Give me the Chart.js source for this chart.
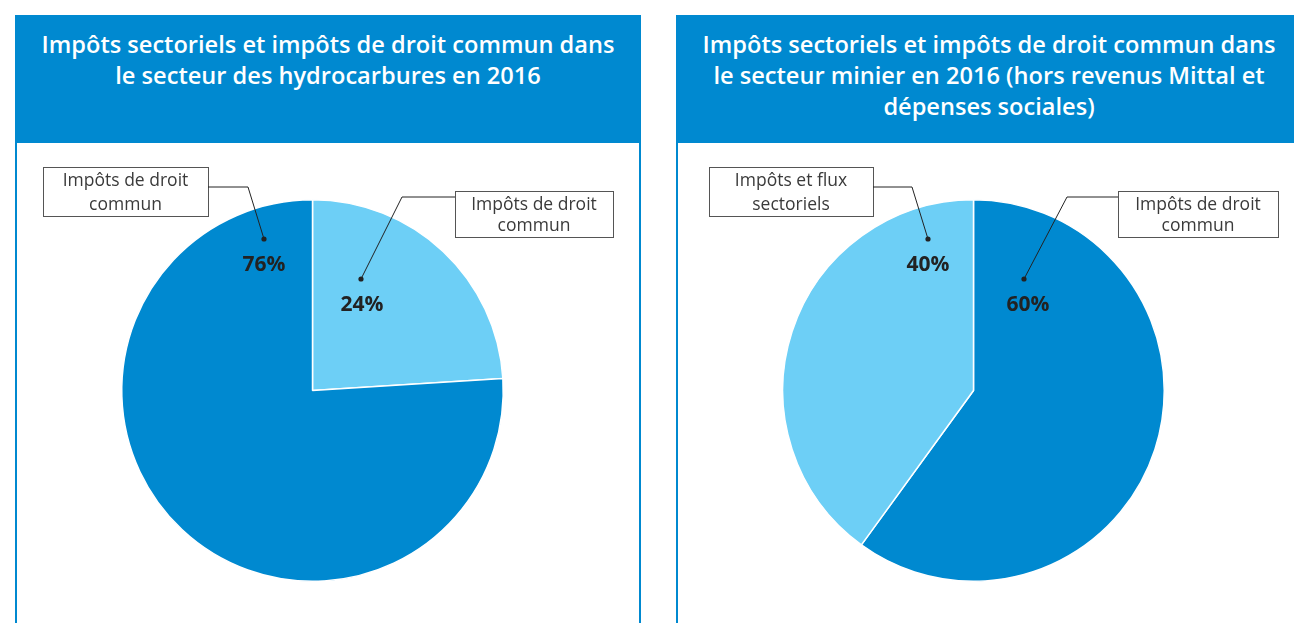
<!DOCTYPE html>
<html>
<head>
<meta charset="utf-8">
<script src="https://cdn.jsdelivr.net/npm/chart.js@4"></script>
<style>
  html, body { margin: 0; padding: 0; background: #fff; }
  body { width: 1294px; height: 623px; position: relative; overflow: hidden; font-family: "Open Sans", sans-serif; }
  .panel { position: absolute; top: 15px; width: 622px; height: 700px; border: 2px solid #0089d0; background: #fff; }
  .panel .head { background: #0089d0; height: 126px; color: #fff; text-align: center; font-weight: 600; font-size: 23.6px; line-height: 31px; padding-top: 12px; box-sizing: border-box; }
  canvas { position: absolute; left: 0; top: 0; }
</style>
</head>
<body>

<div class="panel" style="left:15px;"><div class="head" id="title1"></div></div>
<div class="panel" style="left:676px;"><div class="head" id="title2"></div></div>

<div style="position:absolute;left:0;top:0;width:1294px;height:623px;"><canvas id="pie1"></canvas></div>
<div style="position:absolute;left:0;top:0;width:1294px;height:623px;"><canvas id="pie2"></canvas></div>

<script>
// ===============================
// DATA
// ===============================
const titleHydro = ["Impôts sectoriels et impôts de droit commun dans", "le secteur des hydrocarbures en 2016"];
const titleMines = ["Impôts sectoriels et impôts de droit commun dans", "le secteur minier en 2016 (hors revenus Mittal et", "dépenses sociales)"];

// slices go clockwise from 12 o'clock
const catHydro = ["Impôts de droit commun", "Impôts de droit commun"];
const valHydro = [24, 76];
const catMines = ["Impôts de droit commun", "Impôts et flux sectoriels"];
const valMines = [60, 40];

const DARK = "#0089d0";
const LIGHT = "#6dcff6";
const colHydro = [LIGHT, DARK];
const colMines = [DARK, LIGHT];

document.getElementById("title1").innerHTML = titleHydro.join("<br>");
document.getElementById("title2").innerHTML = titleMines.join("<br>");

// ===============================
// callout layout (page coords)
// ===============================
const calloutsHydro = [
    { box: [455, 191, 158, 46], lines: ["Impôts de droit", "commun"], path: [[455, 197], [402, 197], [361, 279]], pct: [362, 305] },
    { box: [43, 167, 165, 49], lines: ["Impôts de droit", "commun"], path: [[208, 187], [248, 187], [264, 239]], pct: [264, 265] }
];
const calloutsMines = [
    { box: [1118, 191, 160, 46], lines: ["Impôts de droit", "commun"], path: [[1118, 197], [1067, 197], [1024, 279]], pct: [1028, 305] },
    { box: [709, 167, 164, 49], lines: ["Impôts et flux", "sectoriels"], path: [[873, 187], [912, 187], [928, 239]], pct: [928, 265] }
];

// draws boxes, leader lines, dots, percentages
const calloutPlugin = {
    id: "callouts",
    afterDatasetsDraw(chart, args, opts) {
        const ctx = chart.ctx;
        const vals = chart.data.datasets[0].data;
        ctx.save();
        opts.items.forEach((c, i) => {
            const [bx, by, bw, bh] = c.box;
            ctx.fillStyle = "#fff";
            ctx.fillRect(bx, by, bw, bh);
            ctx.strokeStyle = "#555";
            ctx.lineWidth = 1;
            ctx.strokeRect(bx + 0.5, by + 0.5, bw, bh);

            ctx.fillStyle = "#3a3a3a";
            ctx.font = "17.5px 'Open Sans'";
            ctx.textAlign = "center";
            ctx.textBaseline = "middle";
            ctx.fillText(c.lines[0], bx + bw / 2, by + 14);
            ctx.fillText(c.lines[1], bx + bw / 2, by + bh - 11);

            ctx.beginPath();
            ctx.strokeStyle = "#222";
            ctx.moveTo(c.path[0][0], c.path[0][1]);
            for (let k = 1; k < c.path.length; k++) ctx.lineTo(c.path[k][0], c.path[k][1]);
            ctx.stroke();
            const end = c.path[c.path.length - 1];
            ctx.beginPath();
            ctx.fillStyle = "#222";
            ctx.arc(end[0], end[1], 2.6, 0, Math.PI * 2);
            ctx.fill();

            ctx.font = "bold 21px 'Open Sans'";
            ctx.fillStyle = "#222";
            ctx.fillText(vals[i] + "%", c.pct[0], c.pct[1]);
        });
        ctx.restore();
    }
};

function makePie(id, labels, values, colors, pad, callouts) {
    new Chart(document.getElementById(id), {
        type: "pie",
        data: {
            labels: labels,
            datasets: [{
                data: values,
                backgroundColor: colors,
                borderColor: "#fff",
                borderWidth: 1.5
            }]
        },
        options: {
            responsive: true,
            maintainAspectRatio: false,
            animation: false,
            events: [],
            layout: { padding: pad },
            plugins: {
                legend: { display: false },
                tooltip: { enabled: false },
                callouts: { items: callouts }
            }
        },
        plugins: [calloutPlugin]
    });
}

// pie centres ~ (312,390) and (973,390), radius ~191
makePie("pie1", catHydro, valHydro, colHydro, { left: 121, right: 790, top: 199, bottom: 41 }, calloutsHydro);
makePie("pie2", catMines, valMines, colMines, { left: 782, right: 129, top: 199, bottom: 41 }, calloutsMines);
</script>
</body>
</html>
